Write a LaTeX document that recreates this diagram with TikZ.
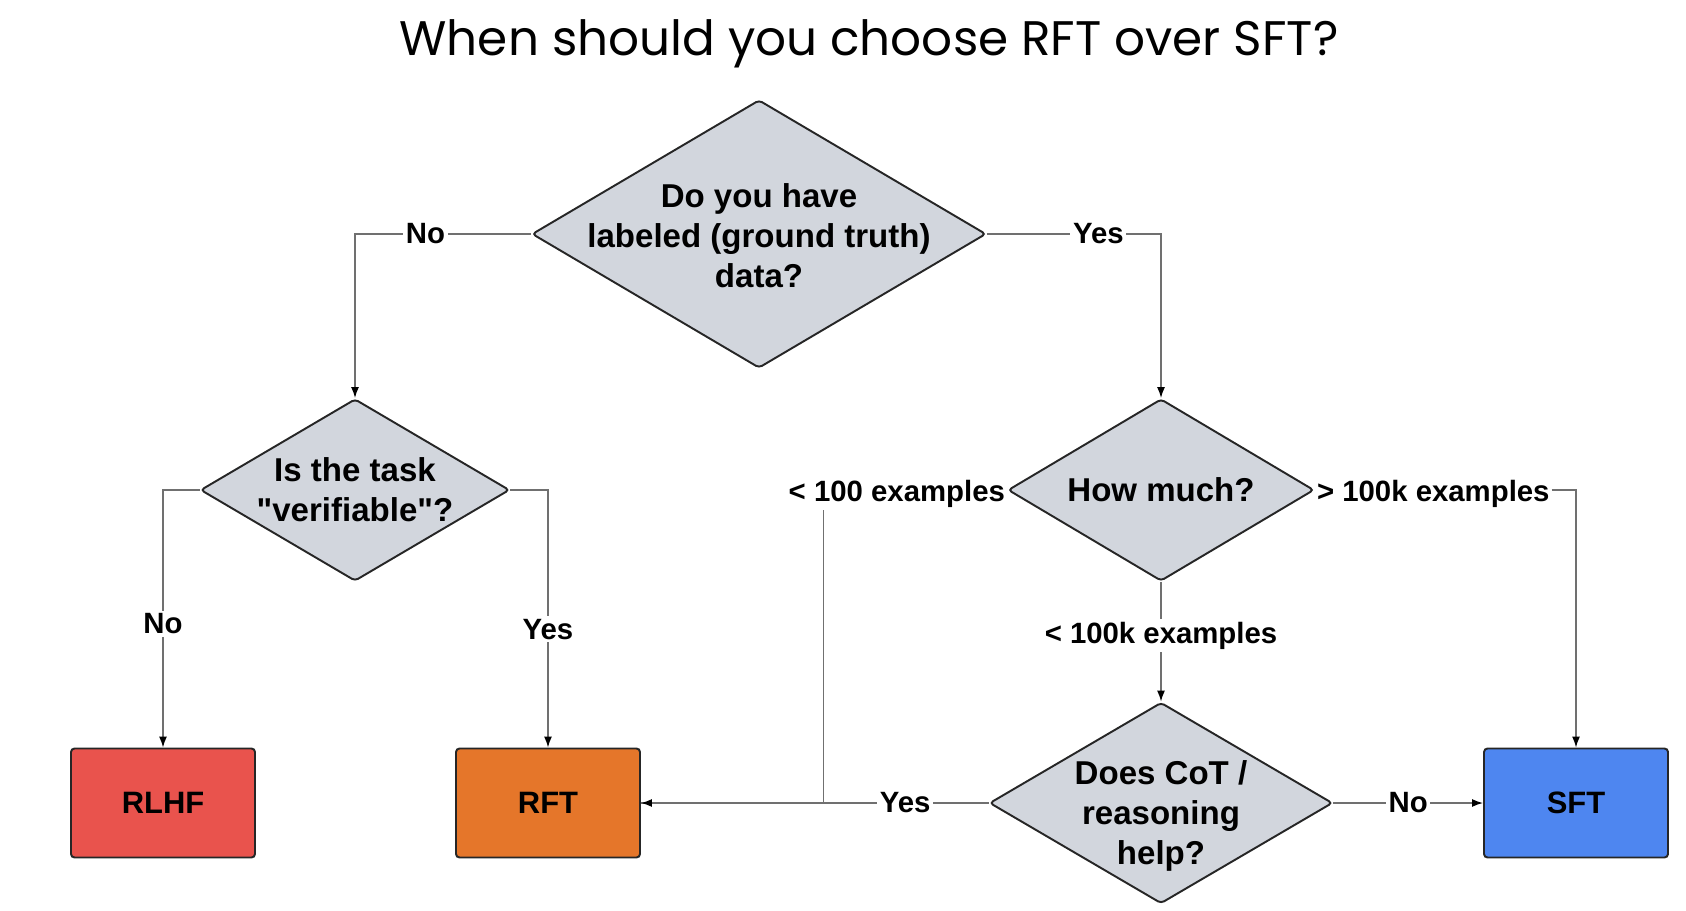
\documentclass[tikz,border=0pt]{standalone}
\usepackage{fontspec}
\setmainfont{Liberation Sans}
\newfontfamily\titlefont{Poppins}
\usetikzlibrary{shapes.geometric,positioning,arrows.meta}

\definecolor{qgray}{HTML}{D2D6DD}
\definecolor{rlhfred}{HTML}{E9534D}
\definecolor{rftorange}{HTML}{E5762A}
\definecolor{sftblue}{HTML}{4E86F0}
\definecolor{edgegray}{HTML}{707070}

\tikzset{
  question/.style={diamond, draw=black!85, line width=1.1pt, fill=qgray, inner sep=0pt, rounded corners=2pt},
  qtext/.style={align=center, font=\fontsize{18.8}{22.7}\selectfont\bfseries},
  outcome/.style={rectangle, draw=black!85, line width=1.1pt, rounded corners=2pt,
    minimum width=3.68cm, minimum height=2.18cm, font=\fontsize{17.6}{21}\selectfont\bfseries},
  conn/.style={draw=edgegray, line width=0.8pt},
  flow/.style={conn, -{Latex[length=2.2mm,width=1.6mm,color=black]}},
  elab/.style={fill=white, inner sep=1.5pt, font=\fontsize{16.7}{20}\selectfont\bfseries},
}

\begin{document}
\begin{tikzpicture}[node distance=2cm, on grid]
\useasboundingbox (0,0) rectangle (33.72,-18.22);
\node[font=\titlefont\fontsize{27.6}{33}\selectfont] (title) at (17.38,-0.87) {When should you choose RFT over SFT?};

% questions
\node[question, minimum width=9.08cm, minimum height=5.36cm,
  label={[qtext,yshift=-0.04cm]center:Do you have\\labeled (ground truth)\\data?}] (labeled) at (15.18,-4.68) {};
\node[question, minimum width=6.18cm, minimum height=3.64cm,
  label={[qtext]center:Is the task\\\textquotedbl verifiable\textquotedbl?}] (verif) [below left=5.12cm and 8.08cm of labeled] {};
\node[question, minimum width=6.12cm, minimum height=3.64cm,
  label={[qtext]center:How much?}] (howmuch) [below right=5.12cm and 8.04cm of labeled] {};
\node[question, minimum width=6.86cm, minimum height=4.02cm,
  label={[qtext,yshift=-0.26cm]center:Does CoT /\\reasoning\\help?}] (cot) [below=6.26cm of howmuch] {};

% outcomes
\node[outcome, fill=rlhfred] (rlhf) [below left=6.26cm and 3.84cm of verif] {RLHF};
\node[outcome, fill=rftorange] (rft) [below right=6.26cm and 3.86cm of verif] {RFT};
\node[outcome, fill=sftblue] (sft) [right=8.30cm of cot] {SFT};

\node[elab, inner xsep=1pt, anchor=east, yshift=-0.07cm] (few) at (howmuch.west) {< 100 examples};
\node[elab, inner xsep=1pt, anchor=west, yshift=-0.07cm] (many) at (howmuch.east) {> 100k examples};

% connectors
\draw[conn] ([xshift=0.74cm]few.south west) |- (rft.east);
\draw[flow] (labeled.west) -| node[elab, pos=0.3] {No} (verif.north);
\draw[flow] (labeled.east) -| node[elab, pos=0.32] {Yes} (howmuch.north);
\draw[flow] (verif.west) -| node[elab, pos=0.76] {No} (rlhf.north);
\draw[flow] (verif.east) -| node[elab, pos=0.77] {Yes} (rft.north);
\draw[flow] (howmuch.south) -- node[elab, pos=0.45] {< 100k examples} (cot.north);
\draw[flow] (cot.east) -- node[elab] {No} (sft.west);
\draw[flow] (cot.west) -- node[elab, pos=0.24] {Yes} (rft.east);
\draw[flow] (many.east |- howmuch.east) -| (sft.north);
\end{tikzpicture}
\end{document}
